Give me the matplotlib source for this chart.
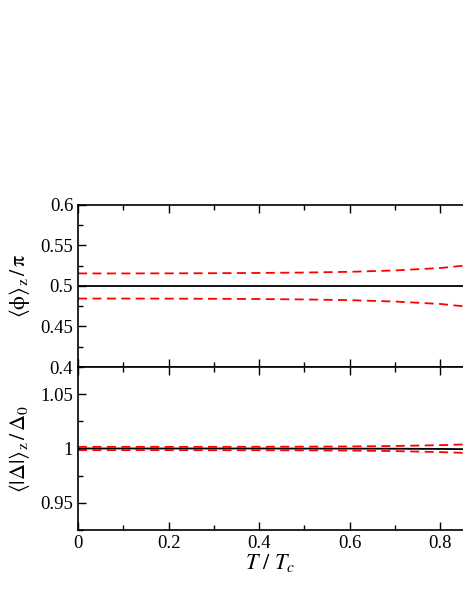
import numpy as np
import matplotlib
matplotlib.use('Agg')
import matplotlib.pyplot as plt
from matplotlib.ticker import MultipleLocator, FuncFormatter

plt.rcParams['font.family'] = ['Liberation Serif', 'DejaVu Serif']
plt.rcParams['mathtext.fontset'] = 'stix'

# temperature grid (T / Tc)
T = [0.0, 0.1, 0.2, 0.3, 0.4, 0.5, 0.6, 0.7, 0.8, 0.85]

# phase <phi>_z / pi
phi_mid = [0.5, 0.5, 0.5, 0.5, 0.5, 0.5, 0.5, 0.5, 0.5, 0.5]
phi_up = [0.5155, 0.5155, 0.5156, 0.5158, 0.5161, 0.5166, 0.5175, 0.5192, 0.5222, 0.5250]
phi_lo = [0.4845, 0.4845, 0.4844, 0.4842, 0.4839, 0.4834, 0.4825, 0.4808, 0.4778, 0.4750]

# amplitude <|Delta|>_z / Delta_0
amp_mid = [1.0, 1.0, 1.0, 1.0, 1.0, 0.9999, 0.9999, 0.9998, 0.9996, 0.9994]
amp_up = [1.0015, 1.0015, 1.0015, 1.0015, 1.0016, 1.0017, 1.0019, 1.0023, 1.0031, 1.0037]
amp_lo = [0.9985, 0.9985, 0.9985, 0.9984, 0.9984, 0.9983, 0.9981, 0.9976, 0.9967, 0.9960]

fig = plt.figure(figsize=(4.63, 5.99), dpi=100)
ax1 = fig.add_axes([0.1685, 0.3873, 0.8315, 0.2705])
ax2 = fig.add_axes([0.1685, 0.1152, 0.8315, 0.2721], sharex=ax1)

fmt = FuncFormatter(lambda v, p: '%g' % round(v, 4))

for ax in (ax1, ax2):
    ax.set_xlim(0, 0.85)
    ax.xaxis.set_major_locator(MultipleLocator(0.2))
    ax.xaxis.set_minor_locator(MultipleLocator(0.1))
    ax.yaxis.set_major_locator(MultipleLocator(0.05))
    ax.yaxis.set_minor_locator(MultipleLocator(0.025))
    ax.tick_params(which='both', direction='in', top=True, right=False, labelsize=13.5, width=1)
    ax.tick_params(which='major', length=6)
    ax.tick_params(which='minor', length=3.5)
    ax.spines['right'].set_visible(False)
    for s in ax.spines.values():
        s.set_linewidth(1.2)
    ax.xaxis.set_major_formatter(fmt)
    ax.yaxis.set_major_formatter(fmt)

ax1.plot(T, phi_mid, color='black', lw=1.3)
ax1.plot(T, phi_up, color='red', lw=1.3, ls=(0, (5, 3)))
ax1.plot(T, phi_lo, color='red', lw=1.3, ls=(0, (5, 3)))
ax1.set_ylim(0.4, 0.6)
ax1.tick_params(labelbottom=False)
ax1.set_ylabel(r'$\langle\mathrm{\phi}\rangle_{\mathrm{z}}\,/\,\mathrm{\pi}$', fontsize=16, labelpad=6)

ax2.plot(T, amp_mid, color='black', lw=1.3)
ax2.plot(T, amp_up, color='red', lw=1.3, ls=(0, (5, 3)))
ax2.plot(T, amp_lo, color='red', lw=1.3, ls=(0, (5, 3)))
ax2.set_ylim(0.925, 1.075)
ax2.set_yticks([0.95, 1.0, 1.05])
ax2.set_ylabel(r'$\langle|\Delta|\rangle_{\mathrm{z}}\,/\,\Delta_0$', fontsize=16, labelpad=6)
ax2.set_xlabel(r'$T\ /\ T_c$', fontsize=16, labelpad=0)

fig.savefig('out.png', dpi=100)
